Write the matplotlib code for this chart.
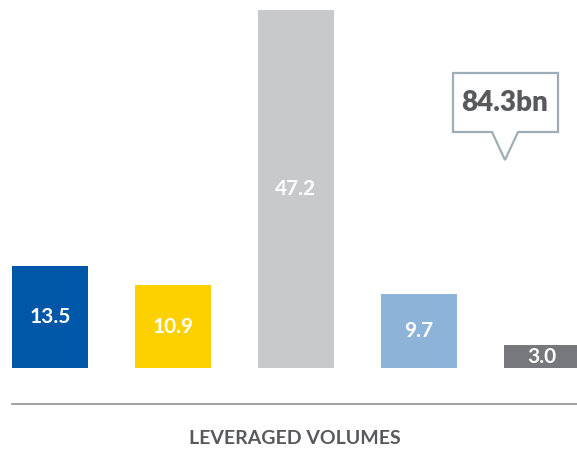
import matplotlib
matplotlib.use("Agg")
import matplotlib.pyplot as plt
from matplotlib.patches import Polygon
from matplotlib.lines import Line2D
from matplotlib.transforms import Affine2D

categories = ["A", "B", "C", "D", "E"]
values = [13.5, 10.9, 47.2, 9.7, 3.0]
colors = ["#0057A8", "#FDD100", "#C8C9CB", "#8DB3D8", "#77787B"]
value_labels = ["13.5", "10.9", "47.2", "9.7", "3.0"]
total_label = "84.3bn"
axis_title = "LEVERAGED VOLUMES"

W, H = 577, 450
fig = plt.figure(figsize=(W / 100, H / 100), dpi=100)
px = Affine2D().scale(1 / W, -1 / H).translate(0, 1) + fig.transFigure

# axes: baseline at y=368px, top at y=10px
bottom_px, top_px = 368, 10
ax = fig.add_axes([0, (H - bottom_px) / H, 1, (bottom_px - top_px) / H])
ax.set_ylim(0, max(values))
step = 123.0
c0 = 50.0
ax.set_xlim(-c0 / step, (W - c0) / step)
ax.axis("off")

xs = list(range(len(categories)))
bars = ax.bar(xs, values, width=76 / step, color=colors, linewidth=0)
for x, v, lab in zip(xs, values, value_labels):
    ax.text(x, v / 2, lab, ha="center", va="center", color="white",
            fontsize=15, fontweight="bold", family="Lato")

# baseline rule
fig.add_artist(Line2D([12, 577], [404, 404], transform=px, color="#9A9A9A", lw=1.3))
fig.text(295 / W, 1 - 438 / H, axis_title, ha="center", va="center",
         fontsize=14, fontweight="bold", color="#58595B", family="Lato")

# callout
pts = [(453, 73), (558, 73), (558, 132), (518, 132), (505, 160), (492, 132), (453, 132)]
fig.add_artist(Polygon(pts, closed=True, transform=px, facecolor="white",
                       edgecolor="#9FAEB6", lw=1.6, joinstyle="miter"))
fig.text(505 / W, 1 - 103 / H, total_label, ha="center", va="center",
         fontsize=20, fontweight="heavy", color="#58595B", family="Lato")

fig.savefig("out.png", dpi=100)
